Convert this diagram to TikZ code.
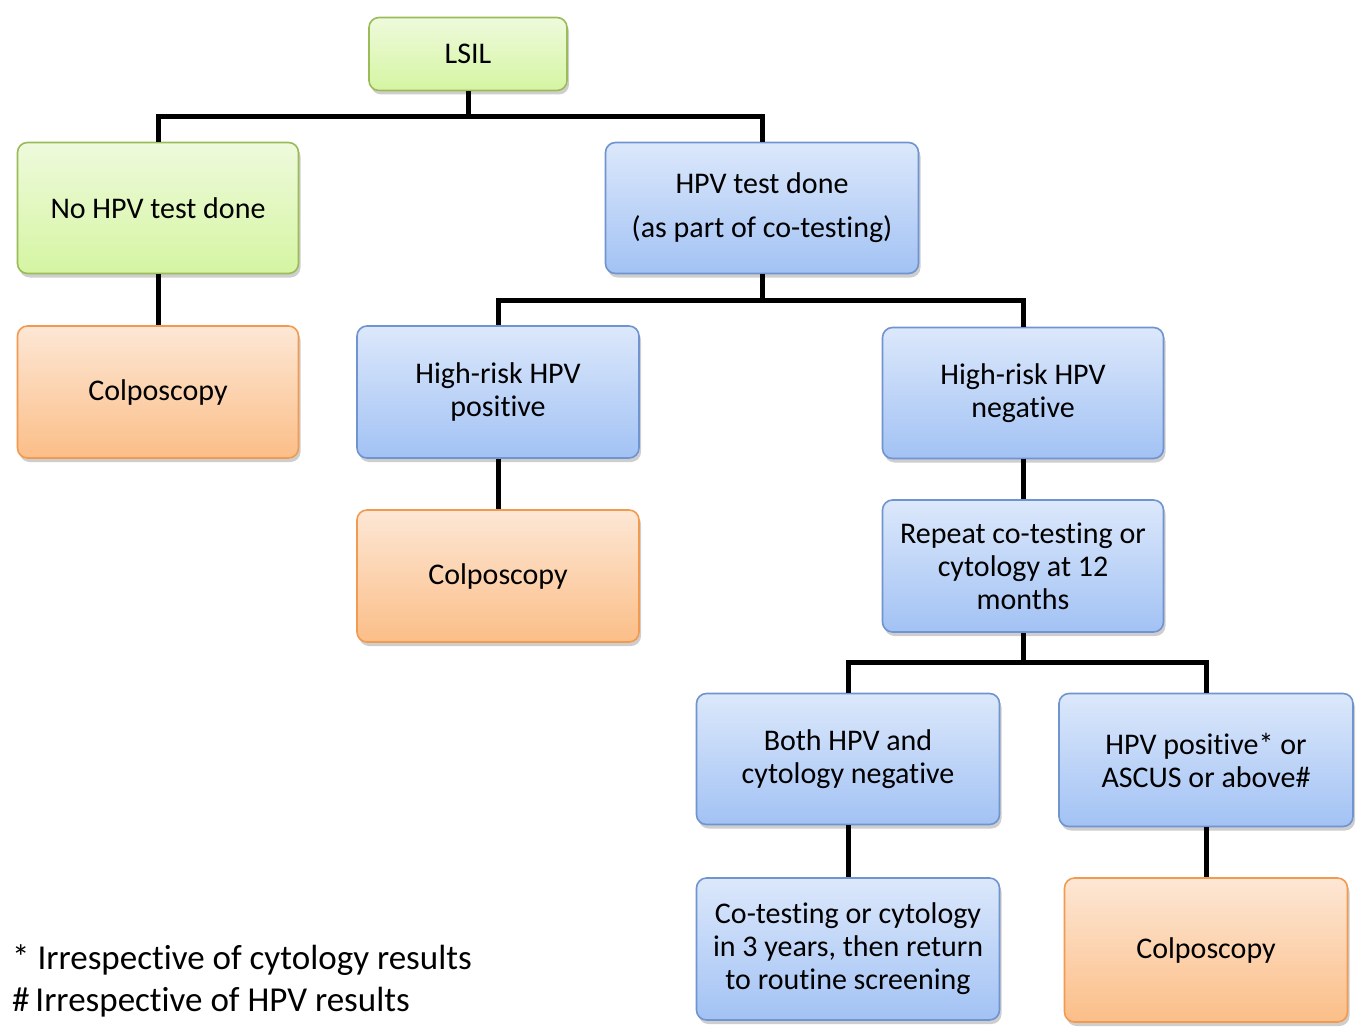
\documentclass[tikz,border=0pt]{standalone}
\usepackage{fontspec}
\setmainfont{Carlito}[RawFeature={-liga;-calt;-clig}]
\usetikzlibrary{shadows}
\definecolor{gTop}{HTML}{EEFADC}
\definecolor{gBot}{HTML}{D5F5A2}
\definecolor{gBrd}{HTML}{9BBB59}
\definecolor{bTop}{HTML}{DCE8FB}
\definecolor{bBot}{HTML}{A2C2F4}
\definecolor{bBrd}{HTML}{6F94D0}
\definecolor{oTop}{HTML}{FDE7D5}
\definecolor{oBot}{HTML}{FBBE88}
\definecolor{oBrd}{HTML}{F29A50}
\tikzset{
  box/.style={rounded corners=10pt, line width=1.6pt, inner sep=0pt, align=center,
    font=\fontsize{30}{33}\selectfont,
    drop shadow={shadow xshift=2pt, shadow yshift=-4pt, opacity=0.35, fill=black!55}},
  gbox/.style={box, draw=gBrd, top color=gTop, bottom color=gBot},
  bbox/.style={box, draw=bBrd, top color=bTop, bottom color=bBot},
  obox/.style={box, draw=oBrd, top color=oTop, bottom color=oBot},
  conn/.style={line width=5pt, draw=black},
  note/.style={anchor=west, inner sep=0pt, font=\fontsize{35}{40}\selectfont}
}
\begin{document}
\begin{tikzpicture}[x=1pt,y=-1pt]
\useasboundingbox (0,0) rectangle (1365,1035);

\node[gbox, minimum width=198pt, minimum height=73pt] (lsil) at (468,54) {LSIL};
\node[gbox, minimum width=281pt, minimum height=131pt] (nohpv) at (158,208) {No HPV test done};
\node[obox, minimum width=281pt, minimum height=132pt] (col1) at (158,392) {Colposcopy};
\node[bbox, minimum width=313pt, minimum height=131pt] (hpvdone) at (762,208) {HPV test done\\[11pt](as part of co-testing)};
\node[bbox, minimum width=282pt, minimum height=132pt] (pos) at (498,392) {High-risk HPV\\positive};
\node[obox, minimum width=282pt, minimum height=132pt] (col2) at (498,576) {Colposcopy};
\node[bbox, minimum width=281pt, minimum height=131pt] (neg) at (1023,393) {High-risk HPV\\negative};
\node[bbox, minimum width=281pt, minimum height=132pt] (rep) at (1023,566) {Repeat co-testing or\\cytology at 12\\months};
\node[bbox, minimum width=303pt, minimum height=131pt] (both) at (848,759) {Both HPV and\\cytology negative};
\node[bbox, minimum width=294pt, minimum height=133pt] (hpvpos) at (1206,760) {HPV positive* or\\ASCUS or above\#};
\node[bbox, minimum width=303pt, minimum height=142pt] (cot) at (848,949) {Co-testing or cytology\\in 3 years, then return\\to routine screening};
\node[obox, minimum width=283pt, minimum height=144pt] (col3) at (1206,950) {Colposcopy};

\coordinate (j1) at (lsil.south |- 0,117);
\coordinate (j2) at (hpvdone.south |- 0,300);
\coordinate (j3) at (rep.south |- 0,662);

\draw[conn] (lsil.south) -- (j1);
\draw[conn] (j1) -| (nohpv.north);
\draw[conn] (j1) -| (hpvdone.north);
\draw[conn] (nohpv.south) -- (col1.north);
\draw[conn] (hpvdone.south) -- (j2);
\draw[conn] (j2) -| (pos.north);
\draw[conn] (j2) -| (neg.north);
\draw[conn] (pos.south) -- (col2.north);
\draw[conn] (neg.south) -- (rep.north);
\draw[conn] (rep.south) -- (j3);
\draw[conn] (j3) -| (both.north);
\draw[conn] (j3) -| (hpvpos.north);
\draw[conn] (both.south) -- (cot.north);
\draw[conn] (hpvpos.south) -- (col3.north);

\node[note] (fn1) at (12,960) {*\ Irrespective of cytology results};
\node[note] (fn2) at (12,1002) {\#\,Irrespective of HPV results};
\end{tikzpicture}
\end{document}
